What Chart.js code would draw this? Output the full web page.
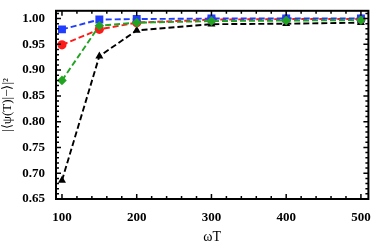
<!DOCTYPE html>
<html>
<head>
<meta charset="utf-8">
<script src="https://cdn.jsdelivr.net/npm/chart.js@4.4.0/dist/chart.umd.min.js"></script>
<style>
  html, body { margin: 0; padding: 0; background: #fff; }
</style>
</head>
<body>
<canvas id="fidelityChart" width="374" height="246"></canvas>
<script>
// data
const omegaT = [100, 150, 200, 300, 400, 500];
const blueSquares = [0.979, 0.998, 0.999, 1.000, 1.000, 1.000];
const redCircles = [0.949, 0.979, 0.992, 0.998, 0.999, 0.999];
const greenDiamonds = [0.880, 0.986, 0.992, 0.995, 0.996, 0.997];
const blackTriangles = [0.686, 0.927, 0.977, 0.989, 0.990, 0.992];
const xTicks = [100, 200, 300, 400, 500];
const yTicks = [0.65, 0.70, 0.75, 0.80, 0.85, 0.90, 0.95, 1.00];

function series(vals) {
    return omegaT.map((x, i) => ({ x: x, y: vals[i] }));
}

// frame + inside ticks, like the mathematica style
const frameTicks = {
    id: 'frameTicks',
    afterDraw(chart) {
        const ctx = chart.ctx;
        const a = chart.chartArea;
        const xs = chart.scales.x, ys = chart.scales.y;
        ctx.save();
        ctx.strokeStyle = '#000';
        ctx.lineWidth = 1.5;
        ctx.beginPath();
        // x major/minor
        for (let v = 100; v <= 500; v += 20) {
            const px = xs.getPixelForValue(v);
            const len = (v % 100 === 0) ? 5 : 3;
            ctx.moveTo(px, a.bottom); ctx.lineTo(px, a.bottom - len);
            ctx.moveTo(px, a.top); ctx.lineTo(px, a.top + len);
        }
        // y major/minor
        for (let k = 65; k <= 101; k += 1) {
            const v = k / 100;
            const py = ys.getPixelForValue(v);
            const len = (k % 5 === 0) ? 5 : 3;
            ctx.moveTo(a.left, py); ctx.lineTo(a.left + len, py);
            ctx.moveTo(a.right, py); ctx.lineTo(a.right - len, py);
        }
        ctx.stroke();
        ctx.lineWidth = 2;
        ctx.strokeRect(a.left, a.top, a.right - a.left, a.bottom - a.top);
        ctx.restore();
    }
};

const ctx = document.getElementById('fidelityChart').getContext('2d');
const dash = [6, 3];
// first dataset ends up on top
window.fidChart = new Chart(ctx, {
    type: 'line',
    data: {
        datasets: [
            {
                data: series(greenDiamonds),
                borderColor: '#22a322',
                backgroundColor: '#22a322',
                pointStyle: 'rectRot',
                pointRadius: 4.8
            },
            {
                data: series(blueSquares),
                borderColor: '#1f3cff',
                backgroundColor: '#1f3cff',
                pointStyle: 'rect',
                pointRadius: 5.6
            },
            {
                data: series(redCircles),
                borderColor: '#ff1a1a',
                backgroundColor: '#ff1a1a',
                pointStyle: 'circle',
                pointRadius: 4.6
            },
            {
                data: series(blackTriangles),
                borderColor: '#000',
                backgroundColor: '#000',
                pointStyle: 'triangle',
                pointRadius: 4.6
            }
        ]
    },
    options: {
        responsive: false,
        animation: false,
        devicePixelRatio: 1,
        layout: { padding: { top: 5, right: 3, left: 0, bottom: 0 } },
        elements: {
            line: { borderWidth: 1.9, borderDash: dash, tension: 0 },
            point: { borderWidth: 0 }
        },
        plugins: {
            legend: { display: false },
            tooltip: { enabled: false }
        },
        scales: {
            x: {
                type: 'linear',
                min: 92,
                max: 510,
                afterBuildTicks: s => { s.ticks = xTicks.map(v => ({ value: v })); },
                afterFit: s => { s.height = 47; },
                grid: { display: false },
                border: { display: false },
                ticks: {
                    color: '#000',
                    padding: 3,
                    maxRotation: 0,
                    font: { family: 'Liberation Serif', size: 13, weight: 'bold' }
                },
                title: {
                    display: true,
                    text: 'ωT',
                    color: '#000',
                    padding: { top: 5, bottom: 0 },
                    font: { family: 'Liberation Serif', size: 14 }
                }
            },
            y: {
                min: 0.65,
                max: 1.015,
                afterBuildTicks: s => { s.ticks = yTicks.map(v => ({ value: v })); },
                afterFit: s => { s.width = 56; },
                grid: { display: false },
                border: { display: false },
                ticks: {
                    color: '#000',
                    padding: 3,
                    callback: v => v.toFixed(2),
                    font: { family: 'Liberation Serif', size: 13, weight: 'bold' }
                },
                title: {
                    display: true,
                    text: '|⟨ψ(T)|−⟩|²',
                    color: '#000',
                    padding: { top: 0, bottom: 2 },
                    font: { family: 'Liberation Serif', size: 13 }
                }
            }
        }
    },
    plugins: [frameTicks]
});
</script>
</body>
</html>
